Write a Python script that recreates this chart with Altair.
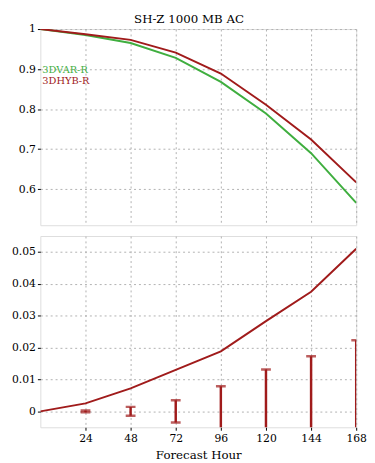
import altair as alt
import pandas as pd

hours = [0, 24, 48, 72, 96, 120, 144, 168]
var_r = [1.0, 0.985, 0.965, 0.928, 0.868, 0.789, 0.690, 0.566]
hyb_r = [1.0, 0.987, 0.973, 0.941, 0.889, 0.811, 0.724, 0.617]
diff = [0.0, 0.0025, 0.0072, 0.0130, 0.0188, 0.0283, 0.0375, 0.0510]
err_hours = [24, 48, 72, 96, 120, 144, 168]
err = [0.0003, 0.0014, 0.0035, 0.0079, 0.0131, 0.0173, 0.0223]

GREEN = "#3fae3f"
RED = "#a01b1b"
FONT = "DejaVu Serif"

ac = pd.DataFrame({
    "hour": hours * 2,
    "ac": var_r + hyb_r,
    "exp": ["3DVAR-R"] * len(hours) + ["3DHYB-R"] * len(hours),
})
dd = pd.DataFrame({"hour": hours, "diff": diff})
ee = pd.DataFrame({"hour": err_hours, "lo": [-e for e in err], "hi": err})

W = 322
xticks = [24, 48, 72, 96, 120, 144, 168]

grid_kw = dict(gridDash=[2, 3], gridColor="#b0b0b0", gridWidth=1, domain=False,
               tickColor="black", tickSize=3, labelFont=FONT, labelFontSize=11,
               labelColor="black", labelPadding=2, labelOverlap=False, labelFlush=False)

x_top = alt.X("hour:Q", scale=alt.Scale(domain=[0, 168], nice=False),
              axis=alt.Axis(values=xticks, labels=False, ticks=False, title=None, **grid_kw))
y_top_axis = alt.Axis(values=[0.6, 0.7, 0.8, 0.9, 1.0], format="~g", title=None, **grid_kw)
top_lines = alt.Chart(ac).mark_line(strokeWidth=2, clip=True).encode(
    x=x_top,
    y=alt.Y("ac:Q", scale=alt.Scale(domain=[0.51, 1.0], nice=False, zero=False), axis=y_top_axis),
    color=alt.Color("exp:N", scale=alt.Scale(domain=["3DVAR-R", "3DHYB-R"], range=[GREEN, RED]),
                    legend=None),
    order=alt.Order("hour:Q"),
)
leg = pd.DataFrame({"t": ["3DVAR-R", "3DHYB-R"], "yy": [0.898, 0.871]})
legend_text = alt.Chart(leg).mark_text(align="left", baseline="middle", font=FONT, fontSize=10).encode(
    x=alt.value(2),
    y=alt.Y("yy:Q", axis=y_top_axis),
    text="t:N",
    color=alt.Color("t:N", scale=alt.Scale(domain=["3DVAR-R", "3DHYB-R"], range=[GREEN, RED]),
                    legend=None),
)
top = alt.layer(top_lines, legend_text).properties(width=W, height=200)

x_bot_axis = alt.Axis(values=xticks, title="Forecast Hour", titleFont=FONT, titleFontSize=12,
                      titleFontWeight="normal", titlePadding=7, **grid_kw)
y_bot_axis = alt.Axis(values=[0, 0.01, 0.02, 0.03, 0.04, 0.05], format="~g", title=None, **grid_kw)
x_bot = alt.X("hour:Q", scale=alt.Scale(domain=[0, 168], nice=False), axis=x_bot_axis)
y_scale = alt.Scale(domain=[-0.005, 0.055], nice=False)
diff_line = alt.Chart(dd).mark_line(color=RED, strokeWidth=2, clip=True).encode(
    x=x_bot, y=alt.Y("diff:Q", scale=y_scale, axis=y_bot_axis))
bars = alt.Chart(ee).mark_rule(color=RED, strokeWidth=2.5, clip=True).encode(
    x=alt.X("hour:Q", axis=x_bot_axis), y=alt.Y("lo:Q", axis=y_bot_axis), y2="hi:Q")
cap_hi = alt.Chart(ee).mark_tick(color=RED, orient="horizontal", size=10, thickness=2.5, clip=True).encode(
    x=alt.X("hour:Q", axis=x_bot_axis), y=alt.Y("hi:Q", axis=y_bot_axis))
cap_lo = alt.Chart(ee).mark_tick(color=RED, orient="horizontal", size=10, thickness=2.5, clip=True).encode(
    x=alt.X("hour:Q", axis=x_bot_axis), y=alt.Y("lo:Q", axis=y_bot_axis))
bottom = alt.layer(diff_line, bars, cap_hi, cap_lo).properties(width=W, height=195)

chart = alt.vconcat(top, bottom, spacing=9).properties(
    title=alt.TitleParams("SH-Z 1000 MB AC", font=FONT, fontSize=12, fontWeight="normal",
                          anchor="middle", offset=-3),
    padding={"left": 3, "top": 0, "right": 0, "bottom": 0},
).configure_view(stroke="black", strokeWidth=2).configure(background="white")

chart.save("out.html", embed_options={"renderer": "svg", "actions": False})
